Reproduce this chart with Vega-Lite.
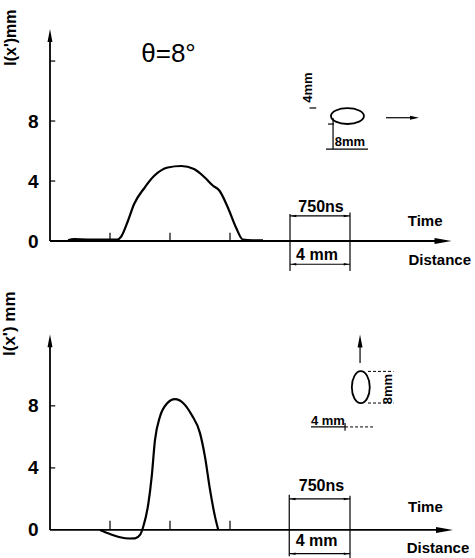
{
  "$schema": "https://vega.github.io/schema/vega-lite/v6.json",
  "background": "white",
  "padding": {"top": 8, "left": 0, "right": 0, "bottom": 0},
  "spacing": 18,
  "config": {
    "view": {"stroke": null},
    "font": "Liberation Sans",
    "axis": {"labelColor": "black", "titleColor": "black", "grid": false, "domain": false, "ticks": false}
  },
  "vconcat": [
    {
      "width": 420,
      "height": 262,
      "encoding": {
        "x": {"field": "x", "type": "quantitative", "scale": {"domain": [0, 28], "nice": false, "zero": false}, "axis": null},
        "y": {"field": "y", "type": "quantitative", "scale": {"domain": [-2, 15.47], "nice": false, "zero": false},
          "axis": {"values": [0, 4, 8], "labelPadding": 12, "labelFontSize": 19, "labelFontWeight": "bold", "minExtent": 28, "maxExtent": 28,
            "title": "l(x')mm", "titleFontSize": 16, "titleFontWeight": "bold", "titleAnchor": "end", "titlePadding": 4}}
      },
      "layer": [
        {
          "data": {"values": [
            {"x": 1.2, "y": 0.05}, {"x": 1.6, "y": 0.12}, {"x": 2.5, "y": 0.1}, {"x": 3.5, "y": 0.1}, {"x": 4.5, "y": 0.1},
            {"x": 4.75, "y": 0.3}, {"x": 5.2, "y": 1.35}, {"x": 5.6, "y": 2.45}, {"x": 6.3, "y": 3.55}, {"x": 6.95, "y": 4.35},
            {"x": 7.85, "y": 4.9}, {"x": 8.75, "y": 5.0}, {"x": 9.6, "y": 4.8}, {"x": 10.3, "y": 4.25}, {"x": 10.85, "y": 3.7},
            {"x": 11.3, "y": 3.35}, {"x": 11.85, "y": 2.25}, {"x": 12.4, "y": 0.9}, {"x": 12.85, "y": 0.1}, {"x": 13.5, "y": 0.05}, {"x": 14.2, "y": 0.05}
          ]},
          "mark": {"type": "line", "color": "black", "strokeWidth": 2.2, "interpolate": "monotone"}
        },
        {
          "data": {"values": [
            {"x": 0, "y": 0, "x2": 0, "y2": 13.7},
            {"x": 0, "y": 0, "x2": 26.2, "y2": 0}
          ]},
          "mark": {"type": "rule", "color": "black", "strokeWidth": 1.8},
          "encoding": {"x2": {"field": "x2"}, "y2": {"field": "y2"}}
        },
        {
          "data": {"values": [
            {"x": 0, "y": 4, "x2": 0.35, "y2": 4}, {"x": 0, "y": 8, "x2": 0.35, "y2": 8}, {"x": 0, "y": 12, "x2": 0.35, "y2": 12},
            {"x": 4, "y": 0, "x2": 4, "y2": 0.55}, {"x": 8, "y": 0, "x2": 8, "y2": 0.55}, {"x": 12, "y": 0, "x2": 12, "y2": 0.55},
            {"x": 16, "y": 1.8, "x2": 16, "y2": -2.0}, {"x": 20, "y": 1.9, "x2": 20, "y2": -2.0},
            {"x": 16, "y": 1.67, "x2": 20, "y2": 1.67}, {"x": 16, "y": -1.55, "x2": 20, "y2": -1.55},
            {"x": 22.4, "y": 8.22, "x2": 24.1, "y2": 8.22},
            {"x": 18.4, "y": 6.13, "x2": 21.2, "y2": 6.13},
            {"x": 18.87, "y": 8.2, "x2": 18.87, "y2": 6.13},
            {"x": 18.53, "y": 7.8, "x2": 18.93, "y2": 7.8},
            {"x": 17.3, "y": 8.87, "x2": 17.75, "y2": 8.87}
          ]},
          "mark": {"type": "rule", "color": "black", "strokeWidth": 1.2},
          "encoding": {"x2": {"field": "x2"}, "y2": {"field": "y2"}}
        },
        {
          "data": {"values": [{"x": 0, "y": 13.7}]},
          "mark": {"type": "point", "shape": "M0,-1L0.38,1L-0.38,1Z", "filled": true, "color": "black", "opacity": 1, "size": 169}
        },
        {
          "data": {"values": [{"x": 26.2, "y": 0}]},
          "mark": {"type": "point", "shape": "M1,0L-1,0.35L-1,-0.35Z", "filled": true, "color": "black", "opacity": 1, "size": 289}
        },
        {
          "data": {"values": [{"x": 24.3, "y": 8.22}]},
          "mark": {"type": "point", "shape": "M1,0L-1,0.45L-1,-0.45Z", "filled": true, "color": "black", "opacity": 1, "size": 81}
        },
        {
          "data": {"values": [{"x": 19.75, "y": 1.67}, {"x": 19.75, "y": -1.55}]},
          "mark": {"type": "point", "shape": "M1,0L-1,0.5L-1,-0.5Z", "filled": true, "color": "black", "opacity": 1, "size": 25}
        },
        {
          "data": {"values": [{"x": 16.25, "y": 1.67}, {"x": 16.25, "y": -1.55}]},
          "mark": {"type": "point", "shape": "M-1,0L1,0.5L1,-0.5Z", "filled": true, "color": "black", "opacity": 1, "size": 25}
        },
        {
          "data": {"values": [{"x": 19.83, "y": 8.33}]},
          "mark": {"type": "point", "shape": "M-1,0A1,0.48 0 1,1 1,0A1,0.48 0 1,1 -1,0Z", "filled": false, "color": "black", "opacity": 1, "strokeWidth": 1.8, "size": 1089}
        },
        {
          "data": {"values": [{"x": 23.85, "y": 1.33, "label": "Time"}, {"x": 23.9, "y": -1.27, "label": "Distance"}]},
          "mark": {"type": "text", "align": "left", "baseline": "middle", "fontSize": 15, "fontWeight": "bold", "color": "black"},
          "encoding": {"text": {"field": "label"}}
        },
        {
          "data": {"values": [{"x": 18.07, "y": 2.3, "label": "750ns"}, {"x": 17.8, "y": -0.95, "label": "4 mm"}]},
          "mark": {"type": "text", "align": "center", "baseline": "middle", "fontSize": 16, "fontWeight": "bold", "color": "black"},
          "encoding": {"text": {"field": "label"}}
        },
        {
          "data": {"values": [{"x": 20.0, "y": 6.6, "label": "8mm"}]},
          "mark": {"type": "text", "align": "center", "baseline": "middle", "fontSize": 13, "fontWeight": "bold", "color": "black"},
          "encoding": {"text": {"field": "label"}}
        },
        {
          "data": {"values": [{"x": 17.23, "y": 10.23, "label": "4mm"}]},
          "mark": {"type": "text", "align": "center", "baseline": "middle", "angle": 270, "fontSize": 13, "fontWeight": "bold", "color": "black"},
          "encoding": {"text": {"field": "label"}}
        },
        {
          "data": {"values": [{"x": 7.9, "y": 12.5, "label": "θ=8°"}]},
          "mark": {"type": "text", "align": "center", "baseline": "middle", "fontSize": 26, "color": "black"},
          "encoding": {"text": {"field": "label"}}
        }
      ]
    },
    {
      "width": 420,
      "height": 270,
      "encoding": {
        "x": {"field": "x", "type": "quantitative", "scale": {"domain": [0, 28], "nice": false, "zero": false}, "axis": null},
        "y": {"field": "y", "type": "quantitative", "scale": {"domain": [-2, 15.4], "nice": false, "zero": false},
          "axis": {"values": [0, 4, 8], "labelPadding": 12, "labelFontSize": 19, "labelFontWeight": "bold", "minExtent": 28, "maxExtent": 28,
            "title": "l(x') mm", "titleFontSize": 17, "titleFontWeight": "bold", "titleAnchor": "end", "titlePadding": 4}}
      },
      "layer": [
        {
          "data": {"values": [
            {"x": 3.33, "y": 0}, {"x": 4.0, "y": -0.26}, {"x": 4.67, "y": -0.47}, {"x": 5.3, "y": -0.55}, {"x": 5.67, "y": -0.54},
            {"x": 6.0, "y": -0.32}, {"x": 6.22, "y": 0.22}, {"x": 6.56, "y": 1.72}, {"x": 6.78, "y": 3.44}, {"x": 7.0, "y": 5.8},
            {"x": 7.33, "y": 7.3}, {"x": 7.78, "y": 8.13}, {"x": 8.33, "y": 8.43}, {"x": 8.89, "y": 8.17}, {"x": 9.44, "y": 7.42},
            {"x": 10.0, "y": 6.24}, {"x": 10.33, "y": 4.73}, {"x": 10.67, "y": 2.58}, {"x": 11.0, "y": 0.86}, {"x": 11.22, "y": 0}
          ]},
          "mark": {"type": "line", "color": "black", "strokeWidth": 2.2, "interpolate": "monotone"}
        },
        {
          "data": {"values": [
            {"x": 0, "y": 0, "x2": 0, "y2": 12.2},
            {"x": 0, "y": 0, "x2": 26.3, "y2": 0}
          ]},
          "mark": {"type": "rule", "color": "black", "strokeWidth": 1.8},
          "encoding": {"x2": {"field": "x2"}, "y2": {"field": "y2"}}
        },
        {
          "data": {"values": [
            {"x": 0, "y": 4, "x2": 0.35, "y2": 4}, {"x": 0, "y": 8, "x2": 0.35, "y2": 8},
            {"x": 4, "y": 0, "x2": 4, "y2": 0.6}, {"x": 8, "y": 0, "x2": 8, "y2": 0.6}, {"x": 12, "y": 0, "x2": 12, "y2": 0.6},
            {"x": 15.95, "y": 2.27, "x2": 15.95, "y2": -1.7}, {"x": 20, "y": 2.2, "x2": 20, "y2": -1.95},
            {"x": 15.95, "y": 2.0, "x2": 20, "y2": 2.0}, {"x": 15.95, "y": -1.53, "x2": 20, "y2": -1.53},
            {"x": 20.67, "y": 10.76, "x2": 20.67, "y2": 12.0},
            {"x": 17.4, "y": 6.64, "x2": 19.67, "y2": 6.64},
            {"x": 19.67, "y": 6.4, "x2": 19.67, "y2": 6.9}
          ]},
          "mark": {"type": "rule", "color": "black", "strokeWidth": 1.2},
          "encoding": {"x2": {"field": "x2"}, "y2": {"field": "y2"}}
        },
        {
          "data": {"values": [
            {"x": 21.2, "y": 10.22, "x2": 22.9, "y2": 10.22},
            {"x": 21.2, "y": 8.18, "x2": 22.9, "y2": 8.18},
            {"x": 19.67, "y": 6.64, "x2": 21.67, "y2": 6.64}
          ]},
          "mark": {"type": "rule", "color": "black", "strokeWidth": 1, "strokeDash": [3, 2]},
          "encoding": {"x2": {"field": "x2"}, "y2": {"field": "y2"}}
        },
        {
          "data": {"values": [{"x": 0, "y": 12.2}, {"x": 20.67, "y": 12.18}]},
          "mark": {"type": "point", "shape": "M0,-1L0.38,1L-0.38,1Z", "filled": true, "color": "black", "opacity": 1, "size": 169}
        },
        {
          "data": {"values": [{"x": 26.3, "y": 0}]},
          "mark": {"type": "point", "shape": "M1,0L-1,0.35L-1,-0.35Z", "filled": true, "color": "black", "opacity": 1, "size": 289}
        },
        {
          "data": {"values": [{"x": 19.75, "y": 2.0}, {"x": 19.75, "y": -1.53}]},
          "mark": {"type": "point", "shape": "M1,0L-1,0.5L-1,-0.5Z", "filled": true, "color": "black", "opacity": 1, "size": 25}
        },
        {
          "data": {"values": [{"x": 16.2, "y": 2.0}, {"x": 16.2, "y": -1.53}]},
          "mark": {"type": "point", "shape": "M-1,0L1,0.5L1,-0.5Z", "filled": true, "color": "black", "opacity": 1, "size": 25}
        },
        {
          "data": {"values": [{"x": 20.72, "y": 9.2}]},
          "mark": {"type": "point", "shape": "M0,-1A0.56,1 0 1,1 0,1A0.56,1 0 1,1 0,-1Z", "filled": false, "color": "black", "opacity": 1, "strokeWidth": 1.8, "size": 1024}
        },
        {
          "data": {"values": [{"x": 23.87, "y": 1.51, "label": "Time"}, {"x": 23.78, "y": -1.16, "label": "Distance"}]},
          "mark": {"type": "text", "align": "left", "baseline": "middle", "fontSize": 15, "fontWeight": "bold", "color": "black"},
          "encoding": {"text": {"field": "label"}}
        },
        {
          "data": {"values": [{"x": 18.1, "y": 2.83, "label": "750ns"}, {"x": 17.77, "y": -0.74, "label": "4 mm"}]},
          "mark": {"type": "text", "align": "center", "baseline": "middle", "fontSize": 16, "fontWeight": "bold", "color": "black"},
          "encoding": {"text": {"field": "label"}}
        },
        {
          "data": {"values": [{"x": 18.53, "y": 7.02, "label": "4 mm"}]},
          "mark": {"type": "text", "align": "center", "baseline": "middle", "fontSize": 13, "fontWeight": "bold", "color": "black"},
          "encoding": {"text": {"field": "label"}}
        },
        {
          "data": {"values": [{"x": 22.5, "y": 9.08, "label": "8mm"}]},
          "mark": {"type": "text", "align": "center", "baseline": "middle", "angle": 270, "fontSize": 13, "fontWeight": "bold", "color": "black"},
          "encoding": {"text": {"field": "label"}}
        }
      ]
    }
  ]
}
